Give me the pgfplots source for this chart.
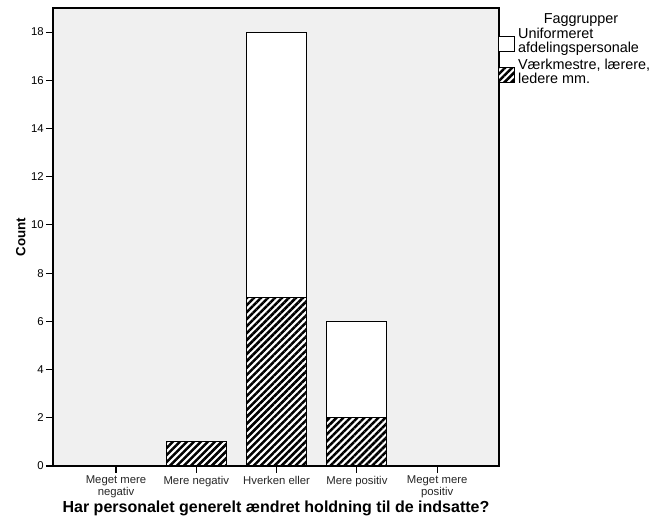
\documentclass[border=0pt]{standalone}
\usepackage{fontspec}
\setmainfont{Liberation Sans}
\usepackage{pgfplots}
\usepackage{pgfplotstable}
\pgfplotsset{compat=1.18}
\usetikzlibrary{patterns.meta}
\definecolor{plotbg}{HTML}{F0F0F0}

% counts per answer category (0..4), split by Faggrupper
\pgfplotstableread{
x hatched white
0 0 0
1 1 0
2 7 11
3 2 4
4 0 0
}\faggrupper

\pgfplotsset{
  boxlegend/.style={legend image code/.code={
    \draw[##1] (0pt,-7.6pt) rectangle (12pt,3.6pt);}},
}

\begin{document}
\begin{tikzpicture}
\begin{axis}[
  width=334.5pt, height=343.5pt, scale only axis,
  clip=false,
  ybar stacked, bar width=0.75,
  xmin=-0.785, xmax=4.77, ymin=0, ymax=19,
  xtick={0,...,4},
  xticklabels={{Meget mere\\negativ},{Mere negativ},{Hverken eller},{Mere positiv},{Meget mere\\positiv}},
  xticklabel style={align=center, font=\fontsize{8.5}{9}\selectfont, text=black!85, inner sep=2pt},
  ytick={0,2,...,18},
  yticklabel style={font=\fontsize{8.5}{9}\selectfont, inner sep=1.5pt},
  /pgf/number format/assume math mode=true,
  tick align=outside, tick pos=left,
  major tick length=5.25pt,
  tick style={black, line width=0.8pt},
  axis line style={line width=0.8pt},
  axis background/.style={fill=plotbg},
  xlabel={Har personalet generelt ændret holdning til de indsatte?},
  ylabel={Count},
  xlabel style={font=\bfseries\fontsize{12}{13}\selectfont, at={(axis description cs:0.5,-0.093)}, anchor=center},
  ylabel style={font=\bfseries\fontsize{10}{12}\selectfont, at={(axis description cs:-0.072,0.5)}, anchor=center},
  legend style={at={(axis description cs:1,0.955)}, anchor=north west, draw=none, fill=none,
    xshift=-0.6pt, yshift=1.5pt, inner sep=0pt,
    font=\fontsize{10.8}{10.5}\selectfont, nodes={align=left, inner xsep=2pt, inner ysep=1pt}, row sep=1.5pt},
  legend cell align=left,
  reverse legend,
]
\addplot[boxlegend, draw=black, line width=0.75pt, fill=white,
  postaction={pattern={Lines[angle=45,distance=3.7pt,line width=1.9pt]}, pattern color=black}]
  table[x=x,y=hatched]{\faggrupper};
\addlegendentry{Værkmestre, lærere,\\ledere mm.}
\addplot[boxlegend, draw=black, line width=0.75pt, fill=white]
  table[x=x,y=white]{\faggrupper};
\addlegendentry{Uniformeret\\afdelingspersonale}
\node[font=\fontsize{10.8}{11}\selectfont] at (axis description cs:1.184,0.973) {Faggrupper};
\end{axis}
\path[use as bounding box] ([xshift=-39.75pt,yshift=-43.5pt]current axis.south west)
  rectangle ([xshift=121.5pt,yshift=6pt]current axis.north east);
\end{tikzpicture}
\end{document}
